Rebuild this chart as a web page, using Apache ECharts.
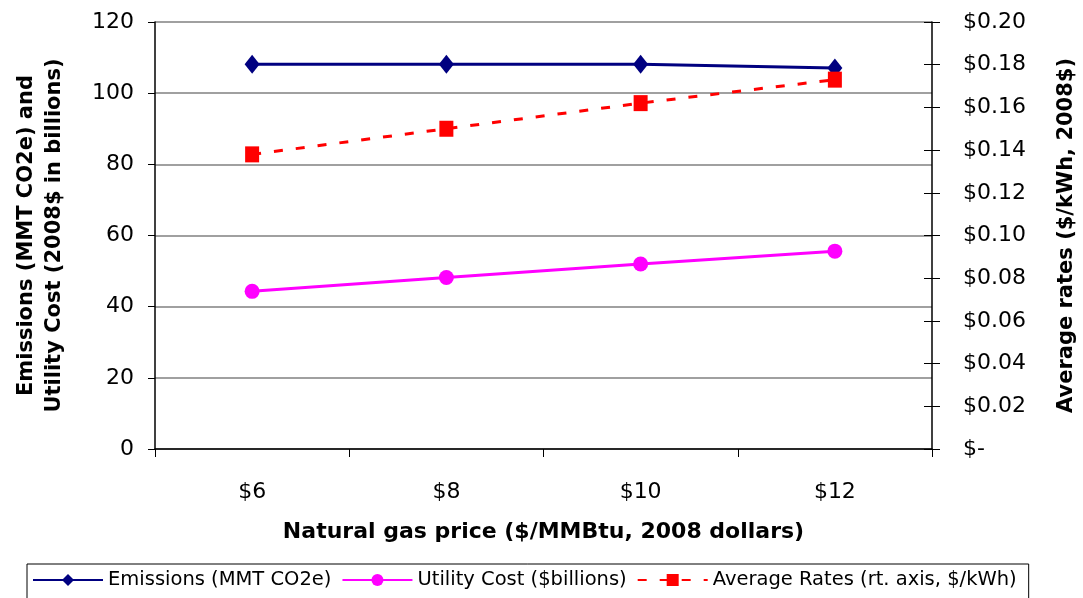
<!DOCTYPE html>
<html>
<head>
<meta charset="utf-8">
<script src="https://cdn.jsdelivr.net/npm/echarts@6/dist/echarts.min.js"></script>
<style>
  html, body { margin: 0; padding: 0; background: #fff; }
  #chart { width: 1083px; height: 598px; }
</style>
</head>
<body>
<div id="chart"></div>
<script>
  // gas price categories
  var categories = ['$6', '$8', '$10', '$12'];
  // left axis series
  var emissions = [108.1, 108.1, 108.1, 107.1];
  var utilityCost = [44.3, 48.2, 52.0, 55.6];
  // right axis series ($/kWh)
  var avgRates = [0.138, 0.150, 0.162, 0.173];

  // the original text is a bit wide, DejaVu Sans matches its extents better
  var fontFam = '"DejaVu Sans", "Liberation Sans", sans-serif';

  var chart = echarts.init(document.getElementById('chart'));

  chart.setOption({
    animation: false,
    textStyle: { fontFamily: fontFam },
    grid: { left: 155, right: 151, top: 22, bottom: 149, outerBoundsMode: 'none' },
    legend: {
      left: 27,
      top: 564,
      borderColor: '#000',
      borderWidth: 1,
      padding: [6, 12, 12, 5],
      itemGap: 10,
      itemWidth: 70,
      itemHeight: 15,
      textStyle: { fontSize: 19.5, color: '#000', fontFamily: fontFam },
      data: ['Emissions (MMT CO2e)', 'Utility Cost ($billions)', 'Average Rates (rt. axis, $/kWh)']
    },
    xAxis: {
      type: 'category',
      data: categories,
      boundaryGap: true,
      name: 'Natural gas price ($/MMBtu, 2008 dollars)',
      nameLocation: 'middle',
      nameGap: 72,
      nameTextStyle: { fontSize: 22, fontWeight: 'bold', color: '#000' },
      axisLine: { lineStyle: { color: '#000', width: 1.5 } },
      axisTick: { show: true, length: 8, lineStyle: { color: '#000' } },
      axisLabel: { fontSize: 22, color: '#000', margin: 32 }
    },
    yAxis: [
      {
        type: 'value',
        position: 'left',
        min: 0,
        max: 120,
        interval: 20,
        name: 'Emissions (MMT CO2e) and\nUtility Cost (2008$ in billions)',
        nameLocation: 'middle',
        nameRotate: 90,
        nameGap: 86,
        nameTextStyle: { fontSize: 21, fontWeight: 'bold', color: '#000', lineHeight: 28 },
        axisLine: { show: true, lineStyle: { color: '#000', width: 1.5 } },
        axisTick: { show: true, length: 7, lineStyle: { color: '#000' } },
        axisLabel: { fontSize: 22, color: '#000', margin: 21 },
        splitLine: { show: true, lineStyle: { color: '#808080', width: 1.5 } }
      },
      {
        type: 'value',
        position: 'right',
        min: 0,
        max: 0.2,
        interval: 0.02,
        name: 'Average rates ($/kWh, 2008$)',
        nameLocation: 'middle',
        nameRotate: 90,
        nameGap: 124,
        nameTextStyle: { fontSize: 21, fontWeight: 'bold', color: '#000' },
        axisLine: { show: true, lineStyle: { color: '#000', width: 1.5 } },
        axisTick: { show: true, length: 8, lineStyle: { color: '#000' } },
        axisLabel: {
          fontSize: 22, color: '#000', margin: 31,
          formatter: function (v) { return v === 0 ? '$-' : '$' + v.toFixed(2); }
        },
        splitLine: { show: false }
      },
      {
        // inner half of the crossing ticks on the right axis
        type: 'value',
        position: 'right',
        min: 0,
        max: 0.2,
        interval: 0.02,
        axisLine: { show: false },
        axisTick: { show: true, inside: true, length: 8, lineStyle: { color: '#000' } },
        axisLabel: { show: false },
        splitLine: { show: false }
      }
    ],
    series: [
      {
        name: 'Emissions (MMT CO2e)',
        type: 'line',
        yAxisIndex: 0,
        data: emissions,
        color: '#000080',
        symbol: 'diamond',
        symbolSize: [15, 19],
        lineStyle: { width: 3 }
      },
      {
        name: 'Utility Cost ($billions)',
        type: 'line',
        yAxisIndex: 0,
        data: utilityCost,
        color: '#FF00FF',
        symbol: 'circle',
        symbolSize: 15,
        lineStyle: { width: 3 }
      },
      {
        name: 'Average Rates (rt. axis, $/kWh)',
        type: 'line',
        yAxisIndex: 1,
        data: avgRates,
        color: '#FF0000',
        symbol: 'rect',
        symbolSize: [14, 16],
        lineStyle: { width: 3, type: [9, 13] }
      }
    ]
  });
</script>
</body>
</html>
